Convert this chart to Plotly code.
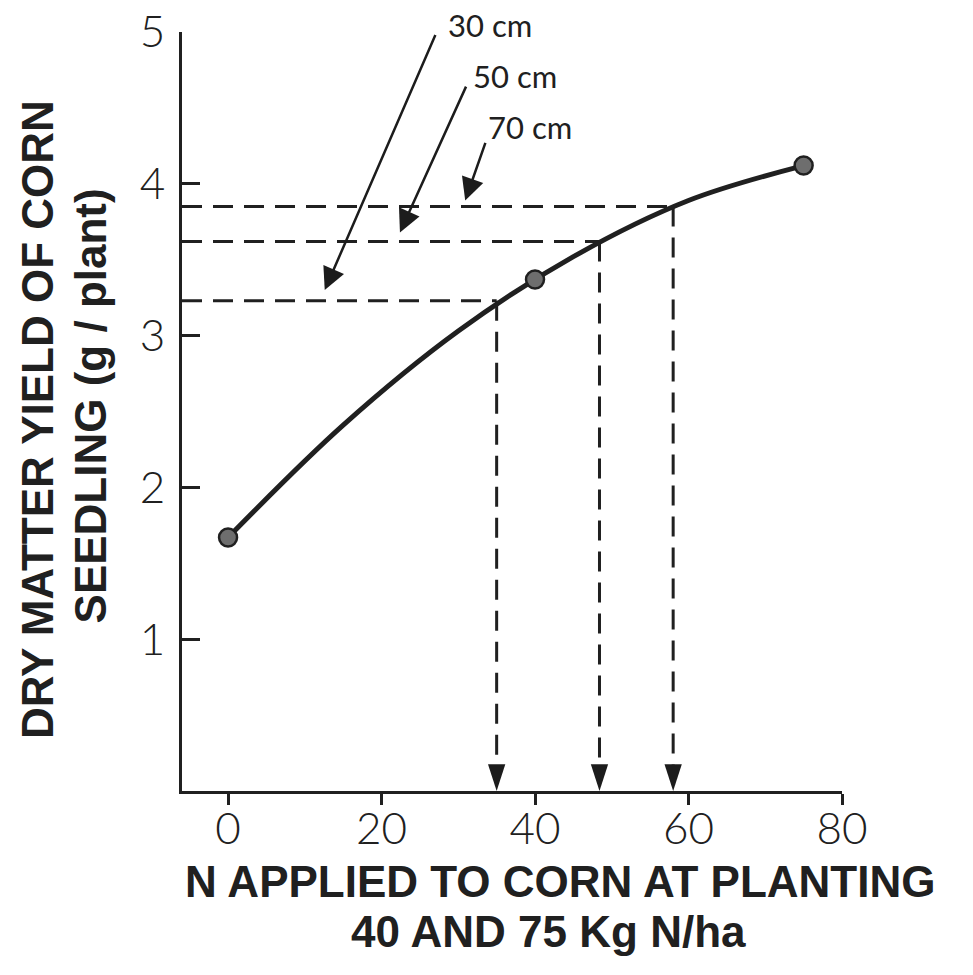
import plotly.graph_objects as go

# ---- data ----
curve_x = [0, 15, 30, 45, 60, 75]
curve_y = [1.67, 2.41, 3.03, 3.52, 3.89, 4.12]

point_x = [0, 40, 75]
point_y = [1.67, 3.37, 4.12]

spacing_labels = ["30 cm", "50 cm", "70 cm"]
dash_x = [35.0, 48.4, 58.0]
dash_y = [3.23, 3.62, 3.85]

x_ticks = [0, 20, 40, 60, 80]
y_ticks = [1, 2, 3, 4, 5]
x_range = [-6, 80]
y_range = [0, 5]

INK = "#202020"
TICK_FONT = dict(family="Lato", size=44, color=INK, weight=300)
TITLE_FONT = dict(family="Liberation Sans", size=44, color=INK, weight="bold")
DASH = "20px,11px"

fig = go.Figure()

# horizontal dashed guides from the y axis to the curve
for xv, yv in zip(dash_x, dash_y):
    fig.add_trace(go.Scatter(
        x=[x_range[0], xv], y=[yv, yv], mode="lines",
        line=dict(color=INK, width=3, dash=DASH), hoverinfo="skip",
        cliponaxis=False))

# vertical dashed guides with arrowheads down to the x axis
for xv, yv in zip(dash_x, dash_y):
    fig.add_trace(go.Scatter(
        x=[xv, xv], y=[yv, 0], mode="lines+markers",
        line=dict(color=INK, width=3, dash=DASH),
        marker=dict(symbol="arrow", size=[0, 28], angleref="previous",
                    color="#1c1c1c", opacity=1, line=dict(width=0)),
        hoverinfo="skip", cliponaxis=False))

# response curve
fig.add_trace(go.Scatter(
    x=curve_x, y=curve_y, mode="lines",
    line=dict(color=INK, width=5, shape="spline", smoothing=1.0),
    hoverinfo="skip", cliponaxis=False))

# measured points
fig.add_trace(go.Scatter(
    x=point_x, y=point_y, mode="markers",
    marker=dict(size=18, color="#6e6e6e", line=dict(color=INK, width=2.5)),
    cliponaxis=False))

# spacing labels with pointer arrows (label y in paper units so it can sit above the axis top)
label_pos = [(34.1, 1.009), (37.4, 0.942), (39.3, 0.875)]
arrow_tail = [(27.1, 4.99), (31.1, 4.65), (33.6, 4.28)]
arrow_tip = [(12.6, 3.30), (22.4, 3.68), (30.9, 3.89)]
for lab, (lx, ly), (tx, ty), (hx, hy) in zip(spacing_labels, label_pos, arrow_tail, arrow_tip):
    fig.add_annotation(x=lx, y=ly, xref="x", yref="paper", text=lab, showarrow=False,
                       font=dict(family="Lato", size=31, color=INK),
                       xanchor="center", yanchor="middle")
    fig.add_annotation(x=hx, y=hy, ax=tx, ay=ty, xref="x", yref="y",
                       axref="x", ayref="y", text="", showarrow=True,
                       arrowhead=2, arrowsize=1.8, arrowwidth=2.5,
                       arrowcolor="#1c1c1c", standoff=0)

# axis titles (placed as annotations for exact positioning)
fig.add_annotation(x=0.573, y=-0.1186, xref="paper", yref="paper",
                   text="N APPLIED TO CORN AT PLANTING", showarrow=False,
                   font=TITLE_FONT, xanchor="center", yanchor="middle")
fig.add_annotation(x=0.556, y=-0.1845, xref="paper", yref="paper",
                   text="40 AND 75 Kg N/ha", showarrow=False,
                   font=TITLE_FONT, xanchor="center", yanchor="middle")
fig.add_annotation(x=-0.218, y=0.489, xref="paper", yref="paper",
                   text="DRY MATTER YIELD OF CORN", showarrow=False, textangle=-90,
                   font=TITLE_FONT, xanchor="center", yanchor="middle")
fig.add_annotation(x=-0.139, y=0.507, xref="paper", yref="paper",
                   text="SEEDLING (g / plant)", showarrow=False, textangle=-90,
                   font=TITLE_FONT, xanchor="center", yanchor="middle")

fig.update_layout(
    width=973, height=975,
    margin=dict(l=182, r=131, t=32, b=184, autoexpand=False),
    paper_bgcolor="white", plot_bgcolor="white",
    showlegend=False,
    xaxis=dict(range=x_range, showline=True, linewidth=3, linecolor=INK,
               ticks="outside", ticklen=11, tickwidth=3, tickcolor=INK,
               tickvals=x_ticks, tickfont=TICK_FONT, ticklabelstandoff=-14,
               showgrid=False, zeroline=False, fixedrange=True, automargin=False),
    yaxis=dict(range=y_range, showline=True, linewidth=3, linecolor=INK,
               ticks="inside", ticklen=18, tickwidth=3, tickcolor=INK,
               tickvals=y_ticks, tickfont=TICK_FONT, ticklabelstandoff=5,
               showgrid=False, zeroline=False, fixedrange=True, automargin=False),
)

fig.write_html("out.html")
